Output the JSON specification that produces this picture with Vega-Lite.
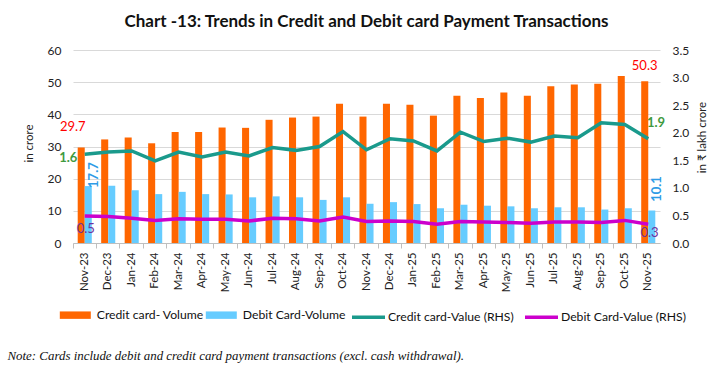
{
  "$schema": "https://vega.github.io/schema/vega-lite/v6.json",
  "width": 587,
  "height": 193,
  "autosize": {"type": "none"},
  "padding": {"left": 73, "top": 50, "right": 67, "bottom": 131},
  "background": "white",
  "title": {"text": "Chart -13: Trends in Credit and Debit card Payment Transactions", "font": "Lato", "fontSize": 17, "fontWeight": "bold", "color": "#111111", "anchor": "middle", "offset": 13},
  "data": {"values": [
    {"month": "Nov-23", "cc_vol": 29.7, "dc_vol": 17.7, "cc_val": 1.61, "dc_val": 0.49},
    {"month": "Dec-23", "cc_vol": 32.2, "dc_vol": 17.8, "cc_val": 1.65, "dc_val": 0.48},
    {"month": "Jan-24", "cc_vol": 32.8, "dc_vol": 16.4, "cc_val": 1.67, "dc_val": 0.45},
    {"month": "Feb-24", "cc_vol": 31.0, "dc_vol": 15.2, "cc_val": 1.49, "dc_val": 0.41},
    {"month": "Mar-24", "cc_vol": 34.5, "dc_vol": 15.9, "cc_val": 1.65, "dc_val": 0.44},
    {"month": "Apr-24", "cc_vol": 34.5, "dc_vol": 15.2, "cc_val": 1.56, "dc_val": 0.43},
    {"month": "May-24", "cc_vol": 35.9, "dc_vol": 15.1, "cc_val": 1.65, "dc_val": 0.43},
    {"month": "Jun-24", "cc_vol": 35.8, "dc_vol": 14.2, "cc_val": 1.58, "dc_val": 0.40},
    {"month": "Jul-24", "cc_vol": 38.3, "dc_vol": 14.5, "cc_val": 1.73, "dc_val": 0.45},
    {"month": "Aug-24", "cc_vol": 39.0, "dc_vol": 14.2, "cc_val": 1.68, "dc_val": 0.44},
    {"month": "Sep-24", "cc_vol": 39.3, "dc_vol": 13.4, "cc_val": 1.75, "dc_val": 0.40},
    {"month": "Oct-24", "cc_vol": 43.3, "dc_vol": 14.2, "cc_val": 2.02, "dc_val": 0.47},
    {"month": "Nov-24", "cc_vol": 39.3, "dc_vol": 12.2, "cc_val": 1.69, "dc_val": 0.39},
    {"month": "Dec-24", "cc_vol": 43.3, "dc_vol": 12.7, "cc_val": 1.89, "dc_val": 0.40},
    {"month": "Jan-25", "cc_vol": 43.0, "dc_vol": 12.1, "cc_val": 1.85, "dc_val": 0.39},
    {"month": "Feb-25", "cc_vol": 39.6, "dc_vol": 10.8, "cc_val": 1.67, "dc_val": 0.34},
    {"month": "Mar-25", "cc_vol": 45.8, "dc_vol": 11.9, "cc_val": 2.01, "dc_val": 0.39},
    {"month": "Apr-25", "cc_vol": 45.1, "dc_vol": 11.6, "cc_val": 1.84, "dc_val": 0.38},
    {"month": "May-25", "cc_vol": 46.8, "dc_vol": 11.4, "cc_val": 1.90, "dc_val": 0.37},
    {"month": "Jun-25", "cc_vol": 45.8, "dc_vol": 10.8, "cc_val": 1.83, "dc_val": 0.36},
    {"month": "Jul-25", "cc_vol": 48.7, "dc_vol": 11.1, "cc_val": 1.94, "dc_val": 0.38},
    {"month": "Aug-25", "cc_vol": 49.3, "dc_vol": 11.1, "cc_val": 1.91, "dc_val": 0.38},
    {"month": "Sep-25", "cc_vol": 49.5, "dc_vol": 10.4, "cc_val": 2.18, "dc_val": 0.37},
    {"month": "Oct-25", "cc_vol": 51.9, "dc_vol": 10.8, "cc_val": 2.15, "dc_val": 0.41},
    {"month": "Nov-25", "cc_vol": 50.3, "dc_vol": 10.1, "cc_val": 1.89, "dc_val": 0.34}
  ]},
  "encoding": {
    "x": {
      "field": "month", "type": "nominal", "sort": null,
      "scale": {"paddingInner": 0.4, "paddingOuter": 0.2},
      "axis": {
        "labelAngle": 270, "labelFont": "Lato", "labelFontSize": 11.5, "labelColor": "#222222", "labelPadding": 4,
        "labelOverlap": false, "tickSize": 5, "tickColor": "#BFBFBF", "domainColor": "#BFBFBF", "bandPosition": -0.3333, "grid": false,
        "title": "Note: Cards include debit and credit card payment transactions (excl. cash withdrawal).",
        "titleX": -66, "titleY": 112, "titleAlign": "left", "titleAnchor": "start", "titleBaseline": "middle", "titleAngle": 0,
        "titleFont": "Liberation Serif", "titleFontStyle": "italic", "titleFontWeight": "normal", "titleFontSize": 12.9, "titleColor": "#111111"
      }
    }
  },
  "layer": [
    {
      "transform": [{"fold": ["cc_vol", "dc_vol"], "as": ["series", "value"]}],
      "encoding": {
        "y": {
          "field": "value", "type": "quantitative",
          "scale": {"domain": [0, 60], "nice": false},
          "axis": {
            "title": "in crore", "values": [0, 10, 20, 30, 40, 50, 60], "grid": true, "gridColor": "#D9D9D9", "domain": false, "ticks": false,
            "labelPadding": 12, "labelFont": "Lato", "labelFontSize": 12, "labelColor": "#222222",
            "titleX": -44, "titleY": 93, "titleAngle": 270, "titleAlign": "center", "titleBaseline": "middle",
            "titleFont": "Lato", "titleFontSize": 11.5, "titleFontWeight": "normal", "titleColor": "#222222"
          }
        }
      },
      "layer": [
        {
          "mark": {"type": "bar"},
          "encoding": {
            "xOffset": {"field": "series", "type": "nominal", "scale": {"domain": ["cc_vol", "dc_vol"], "paddingInner": 0, "paddingOuter": 0}},
            "color": {
              "field": "series", "type": "nominal",
              "scale": {"domain": ["cc_vol", "dc_vol"], "range": ["#FF6600", "#66CCFF"]},
              "legend": {
                "title": null, "orient": "none", "legendX": -13.2, "legendY": 249.5, "direction": "horizontal", "padding": 0,
                "symbolType": "M-1,-0.24H1V0.24H-1Z", "symbolSize": 961, "symbolStrokeWidth": 0,
                "labelOffset": 6, "columnPadding": 2, "labelFont": "Lato", "labelFontSize": 12.2, "labelColor": "#111111",
                "labelExpr": "datum.label == 'cc_vol' ? 'Credit card- Volume' : 'Debit Card-Volume'"
              }
            }
          }
        },
        {
          "transform": [{"filter": "datum.month == 'Nov-23' && datum.series == 'cc_vol'"}],
          "mark": {"type": "text", "dx": -12, "dy": -20.7, "color": "#FF0000", "font": "Lato", "fontSize": 13, "align": "center", "baseline": "middle"},
          "encoding": {"text": {"field": "value", "type": "quantitative", "format": ".1f"}}
        },
        {
          "transform": [{"filter": "datum.month == 'Nov-25' && datum.series == 'cc_vol'"}],
          "mark": {"type": "text", "dx": -3.6, "dy": -15.2, "color": "#FF0000", "font": "Lato", "fontSize": 13, "align": "center", "baseline": "middle"},
          "encoding": {"text": {"field": "value", "type": "quantitative", "format": ".1f"}}
        },
        {
          "transform": [{"filter": "datum.month == 'Nov-23' && datum.series == 'dc_vol'"}],
          "mark": {"type": "text", "angle": 270, "dx": 11, "dy": 9.3, "color": "#2E9BE6", "font": "Lato", "fontSize": 13, "fontWeight": "bold", "align": "center", "baseline": "middle"},
          "encoding": {"text": {"field": "value", "type": "quantitative", "format": ".1f"}}
        },
        {
          "transform": [{"filter": "datum.month == 'Nov-25' && datum.series == 'dc_vol'"}],
          "mark": {"type": "text", "angle": 270, "dx": 21.5, "dy": 8.7, "color": "#2E9BE6", "font": "Lato", "fontSize": 13, "fontWeight": "bold", "align": "center", "baseline": "middle"},
          "encoding": {"text": {"field": "value", "type": "quantitative", "format": ".1f"}}
        }
      ]
    },
    {
      "transform": [{"fold": ["cc_val", "dc_val"], "as": ["series", "value"]}],
      "encoding": {
        "y": {
          "field": "value", "type": "quantitative",
          "scale": {"domain": [0, 3.5], "nice": false},
          "axis": {
            "orient": "right", "title": "in ₹ lakh crore", "values": [0, 0.5, 1, 1.5, 2, 2.5, 3, 3.5], "format": ".1f",
            "grid": false, "domain": false, "ticks": false,
            "labelPadding": 12, "labelFont": "Lato", "labelFontSize": 12, "labelColor": "#222222",
            "titleX": 42, "titleY": 87, "titleAngle": 270, "titleAlign": "center", "titleBaseline": "middle",
            "titleFont": "Lato, Noto Sans, DejaVu Sans", "titleFontSize": 11.5, "titleFontWeight": "normal", "titleColor": "#222222"
          }
        }
      },
      "layer": [
        {
          "mark": {"type": "line", "strokeWidth": 3.5},
          "encoding": {
            "color": {
              "field": "series", "type": "nominal",
              "scale": {"domain": ["cc_val", "dc_val"], "range": ["#1A9A8C", "#CC00CC"]},
              "legend": {
                "title": null, "orient": "none", "legendX": 277, "legendY": 248.5, "direction": "horizontal", "padding": 0,
                "symbolType": "stroke", "symbolSize": 1089, "symbolStrokeWidth": 3.5,
                "labelOffset": 1, "columnPadding": 4, "labelFont": "Lato", "labelFontSize": 12.2, "labelColor": "#111111",
                "labelExpr": "datum.label == 'cc_val' ? 'Credit card-Value (RHS)' : 'Debit Card-Value (RHS)'"
              }
            }
          }
        },
        {
          "transform": [{"filter": "datum.month == 'Nov-23' && datum.series == 'cc_val'"}],
          "mark": {"type": "text", "dx": -16.5, "dy": 3.5, "color": "#3F9A3F", "font": "Lato", "fontSize": 13, "fontWeight": "bold", "align": "center", "baseline": "middle"},
          "encoding": {"text": {"field": "value", "type": "quantitative", "format": ".1f"}}
        },
        {
          "transform": [{"filter": "datum.month == 'Nov-25' && datum.series == 'cc_val'"}],
          "mark": {"type": "text", "dx": 7.7, "dy": -15.5, "color": "#3F9A3F", "font": "Lato", "fontSize": 13, "fontWeight": "bold", "align": "center", "baseline": "middle"},
          "encoding": {"text": {"field": "value", "type": "quantitative", "format": ".1f"}}
        },
        {
          "transform": [{"filter": "datum.month == 'Nov-23' && datum.series == 'dc_val'"}],
          "mark": {"type": "text", "dx": 1, "dy": 13.3, "color": "#7030A0", "font": "Lato", "fontSize": 13, "align": "center", "baseline": "middle"},
          "encoding": {"text": {"field": "value", "type": "quantitative", "format": ".1f"}}
        },
        {
          "transform": [{"filter": "datum.month == 'Nov-25' && datum.series == 'dc_val'"}],
          "mark": {"type": "text", "dx": 1.2, "dy": 8.4, "color": "#7030A0", "font": "Lato", "fontSize": 13, "align": "center", "baseline": "middle"},
          "encoding": {"text": {"field": "value", "type": "quantitative", "format": ".1f"}}
        }
      ]
    }
  ],
  "resolve": {"scale": {"y": "independent", "color": "independent"}},
  "config": {"view": {"stroke": null}, "font": "Lato"}
}
